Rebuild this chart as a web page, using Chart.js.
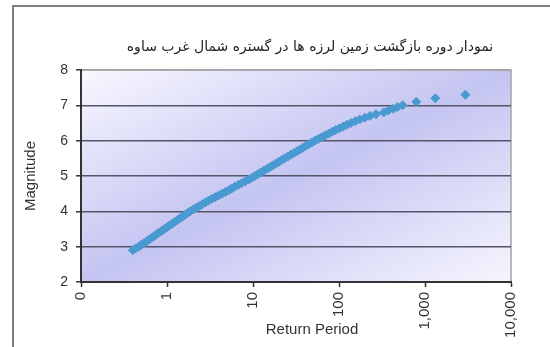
<!DOCTYPE html>
<html>
<head>
<meta charset="utf-8">
<script src="https://cdn.jsdelivr.net/npm/chart.js"></script>
<style>
  body { margin: 0; background: #fff; }
  #wrap { position: relative; width: 550px; height: 347px; overflow: hidden; }
  #frame { position: absolute; left: 12px; top: 5px; width: 600px; height: 400px;
           border-left: 2px solid #808080; border-top: 2px solid #808080; }
  #title { position: absolute; left: 110px; top: 38px; width: 400px; text-align: center;
           font: 14px "DejaVu Sans"; color: #222; direction: rtl; white-space: nowrap; }
  #xtitle { position: absolute; left: 212px; top: 320px; width: 200px; text-align: center;
            font: 15px "Liberation Sans"; color: #333; }
  canvas { position: absolute; left: 0; top: 0; }
</style>
</head>
<body>
<div id="wrap">
  <div id="frame"></div>
  <canvas id="quake" width="550" height="347"></canvas>
  <div id="title">نمودار دوره بازگشت زمین لرزه ها در گستره شمال غرب ساوه</div>
  <div id="xtitle">Return Period</div>
</div>
<script>
// magnitude vs return period (years)
var magnitudes = [
  2.90, 2.95, 3.00, 3.05, 3.10, 3.15, 3.20, 3.25, 3.30, 3.35, 3.40, 3.45,
  3.50, 3.55, 3.60, 3.65, 3.70, 3.75, 3.80, 3.85, 3.90, 3.95,
  4.00, 4.05, 4.10, 4.15, 4.20, 4.25, 4.30, 4.35, 4.40, 4.45,
  4.50, 4.55, 4.60, 4.65, 4.70, 4.75, 4.80, 4.85, 4.90, 4.95,
  5.00, 5.05, 5.10, 5.15, 5.20, 5.25, 5.30, 5.35, 5.40, 5.45,
  5.50, 5.55, 5.60, 5.65, 5.70, 5.75, 5.80, 5.85, 5.90, 5.95,
  6.00, 6.05, 6.10, 6.15, 6.20, 6.25, 6.30, 6.35, 6.40, 6.45,
  6.50, 6.55, 6.60, 6.65, 6.70, 6.75, 6.80, 6.85, 6.90, 6.95,
  7.00, 7.10, 7.20, 7.30];
var returnPeriods = [
  0.40, 0.43, 0.47, 0.50, 0.54, 0.58, 0.62, 0.66, 0.71, 0.76, 0.81, 0.87,
  0.93, 1.00, 1.07, 1.15, 1.23, 1.32, 1.41, 1.51, 1.62, 1.74,
  1.86, 2.02, 2.19, 2.37, 2.57, 2.79, 3.02, 3.31, 3.63, 3.98,
  4.37, 4.79, 5.25, 5.69, 6.17, 6.76, 7.41, 8.13, 8.91, 9.66,
  10.5, 11.4, 12.3, 13.3, 14.5, 15.7, 17.0, 18.4, 20.0, 21.6,
  23.4, 25.4, 27.5, 29.9, 32.4, 35.1, 38.0, 41.2, 44.7, 48.4,
  52.5, 57.5, 63.1, 69.2, 75.9, 83.2, 91.2, 101, 112, 124,
  138, 155, 174, 200, 229, 269, 331, 372, 427, 479,
  550, 794, 1318, 2951];
var xTickValues = [0.1, 1, 10, 100, 1000, 10000];
var xTickLabels = ["0", "1", "10", "100", "1,000", "10,000"];

var points = [];
for (var i = 0; i < magnitudes.length; i++) {
  points.push({ x: returnPeriods[i], y: magnitudes[i] });
}

// lavender diagonal fill behind the plot, like the excel plot area
var plotBackground = {
  id: "plotBackground",
  beforeDraw: function (chart) {
    var ctx = chart.ctx, a = chart.chartArea;
    var w = a.right - a.left, h = a.bottom - a.top;
    var cx = a.left + w / 2, cy = a.top + h / 2;
    var k = (w * h) / (w * w + h * h);
    var g = ctx.createLinearGradient(cx - k * h, cy - k * w, cx + k * h, cy + k * w);
    g.addColorStop(0, "#f8f8ff");
    g.addColorStop(0.5, "#c4c4f2");
    g.addColorStop(1, "#f6f6fe");
    ctx.save();
    ctx.fillStyle = g;
    ctx.fillRect(a.left, a.top, w, h);
    ctx.strokeStyle = "#a4a4a4";
    ctx.lineWidth = 1.5;
    ctx.strokeRect(a.left, a.top, w, h);
    ctx.restore();
  }
};

var chart = new Chart(document.getElementById("quake").getContext("2d"), {
  type: "scatter",
  data: {
    datasets: [
      {
        label: "Magnitude",
        data: points,
        pointStyle: "rectRot",
        pointRadius: 4.5,
        pointBackgroundColor: "#4a9ad2",
        pointBorderColor: "#4a9ad2",
        pointBorderWidth: 1,
      },
    ],
  },
  options: {
    responsive: false,
    animation: false,
    devicePixelRatio: 1,
    layout: { padding: { top: 70, right: 39, bottom: 0, left: 0 } },
    plugins: {
      legend: { display: false },
      tooltip: { enabled: false },
    },
    scales: {
      x: {
        type: "logarithmic",
        min: 0.1,
        max: 10000,
        afterBuildTicks: function (scale) {
          scale.ticks = xTickValues.map(function (v) { return { value: v }; });
        },
        afterFit: function (scale) { scale.height = 65; },
        ticks: {
          minRotation: 90,
          maxRotation: 90,
          autoSkip: false,
          padding: 5,
          color: "#333",
          font: { family: "Liberation Sans", size: 15 },
          callback: function (value) {
            return xTickLabels[xTickValues.indexOf(value)];
          },
        },
        grid: {
          drawOnChartArea: false,
          drawTicks: true,
          tickLength: 5,
          tickColor: "#333",
          tickWidth: 1.5,
        },
        border: { display: true, color: "#333", width: 2 },
      },
      y: {
        min: 2,
        max: 8,
        afterFit: function (scale) { scale.width = 81; },
        ticks: {
          stepSize: 1,
          padding: 8,
          color: "#333",
          font: { family: "Liberation Sans", size: 14 },
        },
        grid: {
          color: function (c) { return c.tick && c.tick.value === 8 ? "#a4a4a4" : "#55556a"; },
          lineWidth: 1.6,
          tickLength: 5,
          tickColor: "#333",
          tickWidth: 1.5,
        },
        border: { display: true, color: "#333", width: 2 },
        title: {
          display: true,
          text: "Magnitude",
          color: "#333",
          font: { family: "Liberation Sans", size: 15 },
          padding: { top: 22, bottom: 0 },
        },
      },
    },
  },
  plugins: [plotBackground],
});
</script>
</body>
</html>
